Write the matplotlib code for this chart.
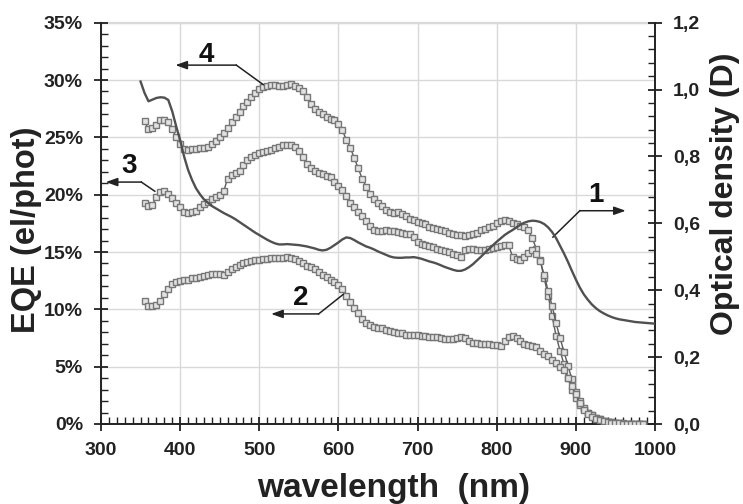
import numpy as np
import matplotlib
matplotlib.use("Agg")
import matplotlib.pyplot as plt
from matplotlib.ticker import MultipleLocator, FuncFormatter

# ---------------- data ----------------
wl_eqe = list(range(355, 990, 5))

eqe4 = [26.4, 25.7, 25.8, 26.1, 26.5, 26.5, 26.3, 25.7, 25.0, 24.4,
        24.0, 23.9, 24.0, 24.0, 24.1, 24.1, 24.2, 24.4, 24.7, 25.0,
        25.4, 25.8, 26.3, 26.8, 27.2, 27.7, 28.1, 28.5, 28.9, 29.2,
        29.4, 29.5, 29.55, 29.6, 29.5, 29.5, 29.6, 29.65, 29.5, 29.3,
        29.0, 28.5, 27.9, 27.5, 27.2, 27.0, 26.8, 26.6, 26.5, 26.2,
        25.6, 24.8, 24.1, 23.2, 22.3, 21.4, 20.7, 20.1, 19.6, 19.3,
        19.0, 18.7, 18.5, 18.4, 18.45, 18.3, 18.1, 17.9, 17.8, 17.6,
        17.5, 17.4, 17.2, 17.1, 17.0, 16.9, 16.8, 16.7, 16.6, 16.5,
        16.5, 16.4, 16.5, 16.6, 16.7, 16.9, 17.0, 17.2, 17.3, 17.5,
        17.7, 17.8, 17.7, 17.5, 17.4, 17.3, 17.2, 16.9, 16.2, 15.3,
        14.3, 12.7, 11.2, 9.4, 7.7, 6.4, 5.2, 4.0, 3.0, 2.3,
        1.7, 1.3, 1.0, 0.75, 0.55, 0.4, 0.3, 0.2, 0.15, 0.1,
        0.08, 0.05, 0.04, 0.03, 0.02, 0.02, 0.02]

eqe3 = [19.3, 19.0, 19.1, 19.8, 20.2, 20.3, 20.1, 19.7, 19.3, 18.9,
        18.5, 18.4, 18.5, 18.6, 18.9, 19.2, 19.4, 19.6, 19.8, 20.0,
        20.3, 21.4, 21.7, 21.9, 22.1, 22.6, 23.0, 23.3, 23.5, 23.6,
        23.7, 23.8, 23.9, 24.1, 24.2, 24.3, 24.3, 24.35, 24.2, 23.8,
        23.3, 22.7, 22.3, 22.1, 21.9, 21.8, 21.6, 21.5, 21.1, 20.8,
        20.4, 19.9, 19.3, 18.9, 18.5, 18.1, 17.7, 17.3, 16.9, 16.8,
        16.8, 16.9, 16.85, 16.8, 16.75, 16.7, 16.6, 16.6, 16.3, 15.9,
        15.7, 15.6, 15.5, 15.4, 15.3, 15.2, 15.1, 15.0, 14.8, 14.7,
        14.6, 15.2, 15.3, 15.3, 15.2, 15.2, 15.2, 15.3, 15.35, 15.4,
        15.5, 15.6, 15.6, 14.6, 14.4, 14.3, 14.6, 14.9, 15.2, 14.8,
        14.2, 13.0, 11.6, 10.3, 8.8, 7.5, 6.3, 5.1, 3.9, 2.8,
        2.0, 1.4, 1.0, 0.75, 0.55, 0.45, 0.3, 0.2, 0.15, 0.1,
        0.06, 0.04, 0.03, 0.02, 0.02, 0.02, 0.02]

eqe2 = [10.7, 10.3, 10.25, 10.4, 10.7, 11.3, 11.8, 12.2, 12.4, 12.5,
        12.55, 12.6, 12.7, 12.75, 12.8, 12.9, 13.0, 13.05, 13.1, 13.1,
        13.0, 13.3, 13.5, 13.7, 13.85, 14.0, 14.1, 14.2, 14.3, 14.3,
        14.35, 14.4, 14.5, 14.5, 14.5, 14.5, 14.55, 14.5, 14.35, 14.2,
        14.0, 13.8, 13.65, 13.5, 13.3, 13.0, 12.8, 12.6, 12.4, 12.1,
        11.8, 11.2, 10.6, 10.1, 9.7, 9.2, 8.8, 8.6, 8.5, 8.4,
        8.35, 8.2, 8.1, 8.0, 7.95, 7.9, 7.75, 7.8, 7.8, 7.75,
        7.7, 7.65, 7.6, 7.6, 7.55, 7.5, 7.45, 7.45, 7.4, 7.5,
        7.55, 7.5, 7.2, 7.1, 7.05, 7.0, 7.0, 6.95, 6.9, 6.85,
        6.8, 7.2, 7.6, 7.7, 7.5, 7.2, 7.0, 6.9, 6.8, 6.7,
        6.4, 6.1, 5.9, 5.6, 5.3, 5.0, 4.7, 4.0, 3.3, 2.6,
        1.8, 1.2, 0.85, 0.6, 0.45, 0.35, 0.25, 0.18, 0.12, 0.08,
        0.05, 0.03, 0.02, 0.02, 0.02, 0.02, 0.02]

wl_od = list(range(350, 1005, 5))
od1 = [1.024, 0.99, 0.965, 0.970, 0.975, 0.977, 0.976, 0.969, 0.935, 0.89,
       0.849, 0.80, 0.76, 0.73, 0.705, 0.687, 0.672, 0.662, 0.652, 0.645,
       0.638, 0.631, 0.625, 0.619, 0.612, 0.604, 0.596, 0.588, 0.580, 0.572,
       0.565, 0.558, 0.551, 0.545, 0.540, 0.537, 0.537, 0.538, 0.537, 0.536,
       0.535, 0.533, 0.531, 0.528, 0.525, 0.521, 0.519, 0.521, 0.527, 0.535,
       0.543, 0.552, 0.558, 0.556, 0.550, 0.543, 0.537, 0.531, 0.527, 0.522,
       0.516, 0.511, 0.506, 0.501, 0.498, 0.497, 0.497, 0.498, 0.498, 0.499,
       0.497, 0.494, 0.490, 0.486, 0.483, 0.479, 0.474, 0.469, 0.465, 0.461,
       0.458, 0.458, 0.462, 0.469, 0.478, 0.489, 0.500, 0.512, 0.523, 0.534,
       0.545, 0.555, 0.565, 0.573, 0.580, 0.588, 0.596, 0.602, 0.606, 0.608,
       0.607, 0.604, 0.598, 0.588, 0.574, 0.556, 0.533, 0.510, 0.485, 0.458,
       0.432, 0.408, 0.388, 0.372, 0.358, 0.347, 0.338, 0.331, 0.325, 0.320,
       0.316, 0.313, 0.311, 0.309, 0.307, 0.305, 0.304, 0.303, 0.302, 0.301,
       0.300]

x_ticks = [300, 400, 500, 600, 700, 800, 900, 1000]
eqe_ticks = [0, 5, 10, 15, 20, 25, 30, 35]
od_ticks = [0.0, 0.2, 0.4, 0.6, 0.8, 1.0, 1.2]

labels = ["1", "2", "3", "4"]

# ---------------- styling ----------------
NUM_FONT = ['Liberation Sans Narrow', 'Liberation Sans', 'DejaVu Sans']
LAB_FONT = ['Liberation Sans', 'DejaVu Sans']
plt.rcParams['font.family'] = LAB_FONT

fig = plt.figure(figsize=(7.43, 5.04), dpi=100)
ax = fig.add_axes([101 / 743, 80 / 504, 554 / 743, 401.3 / 504])
ax2 = ax.twinx()

grid_c = '#d9d9d9'
line_c = '#5a5a5a'
mk = dict(marker='s', markersize=3.9, markerfacecolor='#e2e2e2',
          markeredgecolor='#777777', markeredgewidth=1.0,
          color=line_c, linewidth=1.0)

ax.plot(wl_eqe, eqe4, **mk, zorder=3)
ax.plot(wl_eqe, eqe3, **mk, zorder=3)
ax.plot(wl_eqe, eqe2, **mk, zorder=3)
ax2.plot(wl_od, od1, color='#505050', linewidth=1.7, zorder=3)

ax.set_xlim(300, 1000)
ax.set_ylim(0, 35)
ax2.set_ylim(0, 1.2)

ax.set_xticks(x_ticks)
ax.set_yticks(eqe_ticks)
ax2.set_yticks(od_ticks)
ax.xaxis.set_minor_locator(MultipleLocator(10))
ax.yaxis.set_minor_locator(MultipleLocator(1))
ax2.yaxis.set_minor_locator(MultipleLocator(0.04))

ax.yaxis.set_major_formatter(FuncFormatter(lambda v, p: f"{v:.0f}%"))
ax2.yaxis.set_major_formatter(FuncFormatter(lambda v, p: f"{v:.1f}".replace('.', ',')))

ax.grid(True, which='major', color=grid_c, linewidth=1.0, zorder=0)
ax.set_axisbelow(True)

for a in (ax, ax2):
    a.spines['top'].set_visible(False)
ax.spines['right'].set_visible(False)
ax2.spines['left'].set_visible(False)
ax2.spines['bottom'].set_visible(False)
for s in ('left', 'bottom'):
    ax.spines[s].set_linewidth(1.4)
    ax.spines[s].set_color('#222222')
ax2.spines['right'].set_linewidth(1.4)
ax2.spines['right'].set_color('#222222')
# light top border like the reference grid
ax.axhline(35, color=grid_c, linewidth=1.6, clip_on=False, zorder=0)

ax.tick_params(axis='both', which='major', direction='inout', length=10,
               width=1.3, color='#222222', pad=8)
ax.tick_params(axis='both', which='minor', direction='in', length=5,
               width=1.0, color='#222222')
ax2.tick_params(axis='y', which='major', direction='inout', length=10,
                width=1.3, color='#222222', pad=8)
ax2.tick_params(axis='y', which='minor', direction='in', length=5,
                width=1.0, color='#222222')

for lab in ax.get_xticklabels() + ax.get_yticklabels() + ax2.get_yticklabels():
    lab.set_fontfamily(NUM_FONT)
    lab.set_fontweight('bold')
    lab.set_fontsize(14)
    lab.set_color('#222222')

fig.text(0.036, 0.545, "EQE (el/phot)", rotation=90, ha='center', va='center',
         fontsize=23.5, fontweight='bold', color='#222222')
fig.text(0.976, 0.615, "Optical density (D)", rotation=90, ha='center', va='center',
         fontsize=23, fontweight='bold', color='#222222')
fig.text(0.530, 0.030, "wavelength  (nm)", ha='center', va='center',
         fontsize=24, fontweight='bold', color='#222222')

# ---------------- curve labels with bent arrows ----------------
arrow_kw = dict(arrowstyle='-|>,head_length=0.7,head_width=0.25',
                color='#222222', lw=1.1, shrinkA=0, shrinkB=0)


def bent_label(txt, curve_pt, corner, tip, text_pt):
    ax.plot([curve_pt[0], corner[0]], [curve_pt[1], corner[1]],
            color='#222222', lw=1.1, zorder=5, clip_on=False)
    ax.annotate('', xy=tip, xytext=corner, arrowprops=arrow_kw,
                annotation_clip=False, zorder=5)
    ax.text(text_pt[0], text_pt[1], txt, ha='center', va='center',
            fontsize=20, fontweight='bold', color='#111111', zorder=6)


bent_label(labels[3], (505, 29.6), (471, 31.3), (394, 31.3), (433, 32.2))
bent_label(labels[2], (368, 20.3), (351, 21.1), (306, 21.1), (335, 22.5))
bent_label(labels[1], (606, 11.3), (575, 9.6), (515, 9.6), (552, 11.0))
bent_label(labels[0], (871, 16.3), (905, 18.6), (963, 18.6), (926, 20.0))

fig.savefig("out.png", dpi=100)
